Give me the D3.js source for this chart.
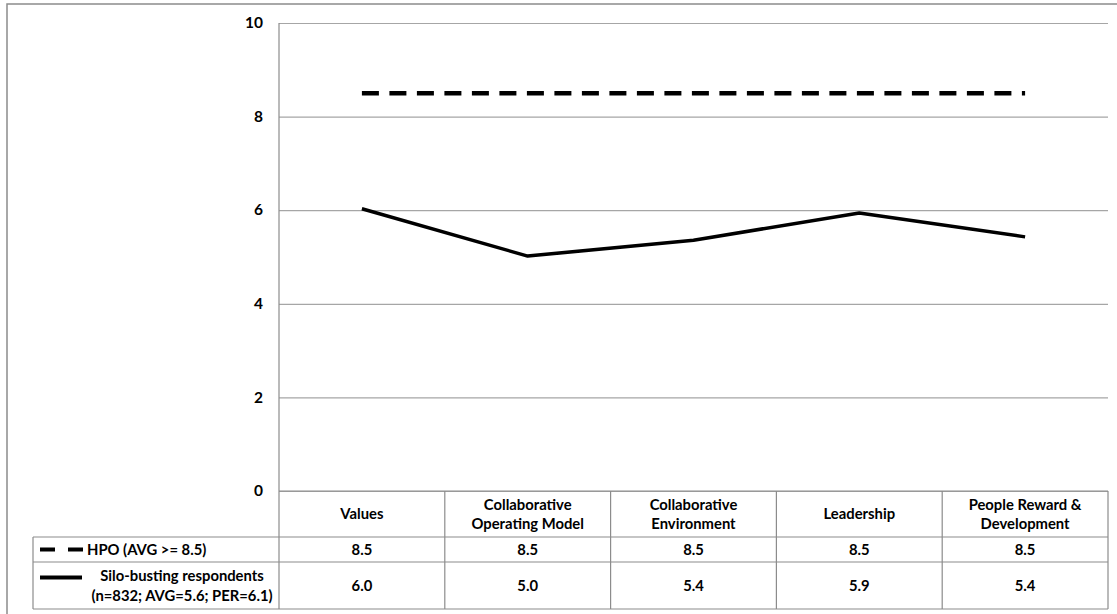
<!DOCTYPE html>
<html>
<head>
<meta charset="utf-8">
<script src="https://cdn.jsdelivr.net/npm/d3@7"></script>
<style>
  body { margin: 0; background: #fff; }
  svg text { font-family: Lato, "Open Sans", sans-serif; font-weight: bold; fill: #000; }
</style>
</head>
<body>
<svg width="1117" height="614"></svg>
<script>
// Data
var categories = ["Values", "Collaborative Operating Model", "Collaborative Environment", "Leadership", "People Reward & Development"];
var categoryLines = [["Values"], ["Collaborative", "Operating Model"], ["Collaborative", "Environment"], ["Leadership"], ["People Reward &", "Development"]];
var hpoValues = [8.5, 8.5, 8.5, 8.5, 8.5];
var siloValues = [6.03, 5.02, 5.36, 5.94, 5.43];
var seriesNames = ["HPO (AVG >= 8.5)", ["Silo-busting respondents", "(n=832; AVG=5.6; PER=6.1)"]];
var yTicks = [0, 2, 4, 6, 8, 10];

var svg = d3.select("svg"),
    plotLeft = 279, plotRight = 1108, plotTop = 23, zero = 491,
    tableLeft = 33, headerBottom = 537, hpoBottom = 562, tableBottom = 609;

var gridColor = "#a6a6a6", borderColor = "#8c8c8c", fs = 14.8;

// outer frame
svg.append("rect")
    .attr("x", 7).attr("y", 4).attr("width", 1130).attr("height", 630)
    .attr("fill", "none").attr("stroke", "#8c8c8c").attr("stroke-width", 1.5);

var x = d3.scaleBand().domain(categories).range([plotLeft, plotRight]).padding(0);
var y = d3.scaleLinear().domain([0, 10]).range([zero, plotTop]);
var cx = function(c) { return x(c) + x.bandwidth() / 2; };

// gridlines + y labels
var yAxis = svg.append("g")
    .attr("transform", "translate(" + plotLeft + ",0)")
    .call(d3.axisLeft(y).tickValues(yTicks).tickSize(-(plotRight - plotLeft)).tickPadding(16).tickFormat(d3.format("d")));
yAxis.select(".domain").remove();
yAxis.selectAll(".tick line").attr("stroke", gridColor).attr("stroke-width", 1.2);
yAxis.selectAll(".tick text").attr("font-size", 15.5).attr("dy", "0.3em");

// plot left border
svg.append("line")
    .attr("x1", plotLeft).attr("x2", plotLeft).attr("y1", plotTop).attr("y2", tableBottom)
    .attr("stroke", borderColor).attr("stroke-width", 1.2);

// table grid
var tg = svg.append("g").attr("stroke", borderColor).attr("stroke-width", 1.2).attr("fill", "none");
tg.append("line").attr("x1", plotLeft).attr("x2", plotRight).attr("y1", zero).attr("y2", zero);
tg.append("line").attr("x1", tableLeft).attr("x2", plotRight).attr("y1", headerBottom).attr("y2", headerBottom);
tg.append("line").attr("x1", tableLeft).attr("x2", plotRight).attr("y1", hpoBottom).attr("y2", hpoBottom);
tg.append("line").attr("x1", tableLeft).attr("x2", plotRight).attr("y1", tableBottom).attr("y2", tableBottom);
tg.append("line").attr("x1", tableLeft).attr("x2", tableLeft).attr("y1", headerBottom).attr("y2", tableBottom);
categories.forEach(function(c) {
  tg.append("line").attr("x1", x(c) + x.bandwidth()).attr("x2", x(c) + x.bandwidth())
    .attr("y1", zero).attr("y2", tableBottom);
});

// header text
categories.forEach(function(c, i) {
  var lines = categoryLines[i];
  var mid = (zero + headerBottom) / 2;
  lines.forEach(function(t, j) {
    svg.append("text")
        .attr("x", cx(c))
        .attr("y", mid + (j - (lines.length - 1) / 2) * 19)
        .attr("dy", "0.35em")
        .attr("text-anchor", "middle")
        .attr("font-size", fs)
        .text(t);
  });
});

// table values
var fmt = d3.format(".1f");
categories.forEach(function(c, i) {
  svg.append("text").attr("x", cx(c)).attr("y", (headerBottom + hpoBottom) / 2).attr("dy", "0.35em")
      .attr("text-anchor", "middle").attr("font-size", fs).text(fmt(hpoValues[i]));
  svg.append("text").attr("x", cx(c)).attr("y", (hpoBottom + tableBottom) / 2).attr("dy", "0.35em")
      .attr("text-anchor", "middle").attr("font-size", fs).text(fmt(siloValues[i]));
});

// legend keys + names
var hpoMid = (headerBottom + hpoBottom) / 2;
svg.append("line").attr("x1", 40).attr("x2", 83).attr("y1", hpoMid).attr("y2", hpoMid)
    .attr("stroke", "#000").attr("stroke-width", 4).attr("stroke-dasharray", "15,13");
svg.append("text").attr("x", 87).attr("y", hpoMid).attr("dy", "0.35em")
    .attr("font-size", fs).text(seriesNames[0]);

var siloMid = (hpoBottom + tableBottom) / 2;
svg.append("line").attr("x1", 40).attr("x2", 82).attr("y1", siloMid - 8).attr("y2", siloMid - 8)
    .attr("stroke", "#000").attr("stroke-width", 4);
seriesNames[1].forEach(function(t, j) {
  svg.append("text").attr("x", 182).attr("y", siloMid + (j - 0.5) * 20).attr("dy", "0.35em")
      .attr("text-anchor", "middle").attr("font-size", fs).text(t);
});

// lines
var line = d3.line()
    .x(function(d, i) { return cx(categories[i]); })
    .y(function(d) { return y(d); });

svg.append("path")
    .datum(hpoValues)
    .attr("fill", "none")
    .attr("stroke", "#000")
    .attr("stroke-width", 4.5)
    .attr("stroke-dasharray", "17,10.5")
    .attr("d", line);

svg.append("path")
    .datum(siloValues)
    .attr("fill", "none")
    .attr("stroke", "#000")
    .attr("stroke-width", 3.5)
    .attr("stroke-linejoin", "round")
    .attr("d", line);
</script>
</body>
</html>
